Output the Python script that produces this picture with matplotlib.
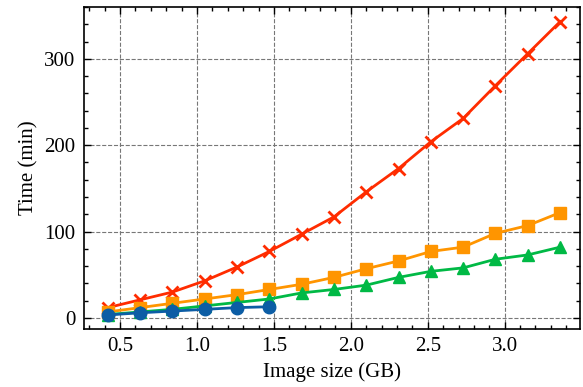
import matplotlib.pyplot as plt
from matplotlib.ticker import MultipleLocator

sizes = [0.42, 0.63, 0.84, 1.05, 1.26, 1.47, 1.68, 1.89, 2.10, 2.31, 2.52, 2.73, 2.94, 3.15, 3.36]
time_red = [12, 21, 30, 43, 59, 77, 97, 117, 146, 173, 204, 231, 269, 306, 343]
time_orange = [7, 12, 17, 22, 27, 33, 39, 47, 57, 66, 77, 82, 98, 107, 122]
time_green = [4, 7, 10, 14, 18, 22, 29, 33, 38, 47, 54, 58, 68, 73, 82]
time_blue = [3.5, 6, 8, 10, 12, 13]

plt.rcParams['font.family'] = ['Liberation Serif', 'DejaVu Serif']
plt.rcParams['font.size'] = 15
plt.rcParams['xtick.direction'] = 'in'
plt.rcParams['ytick.direction'] = 'in'

fig, ax = plt.subplots(figsize=(5.83, 3.87), dpi=100)
fig.subplots_adjust(left=0.144, right=0.995, bottom=0.15, top=0.982)

ax.plot(sizes, time_red, color='#FF2C00', marker='x', ms=9, mew=2, lw=2)
ax.plot(sizes, time_orange, color='#FF9500', marker='s', ms=8, lw=2)
ax.plot(sizes, time_green, color='#00B945', marker='^', ms=8.5, lw=2)
ax.plot(sizes[:len(time_blue)], time_blue, color='#0C5DA5', marker='o', ms=9, lw=2)

ax.set_xlim(0.265, 3.49)
ax.set_ylim(-12.7, 360)
ax.xaxis.set_major_locator(MultipleLocator(0.5))
ax.xaxis.set_minor_locator(MultipleLocator(0.1))
ax.yaxis.set_major_locator(MultipleLocator(100))
ax.yaxis.set_minor_locator(MultipleLocator(20))
ax.tick_params(which='both', top=True, right=True, width=1)
ax.tick_params(which='major', length=5, pad=6)
ax.tick_params(which='minor', length=2.8)
for s in ax.spines.values():
    s.set_linewidth(1.2)
ax.grid(True, which='major', linestyle='--', color='#777777', lw=0.8)
ax.set_axisbelow(True)

ax.set_xlabel('Image size (GB)')
ax.set_ylabel('Time (min)')

fig.savefig('out.png', dpi=100)
